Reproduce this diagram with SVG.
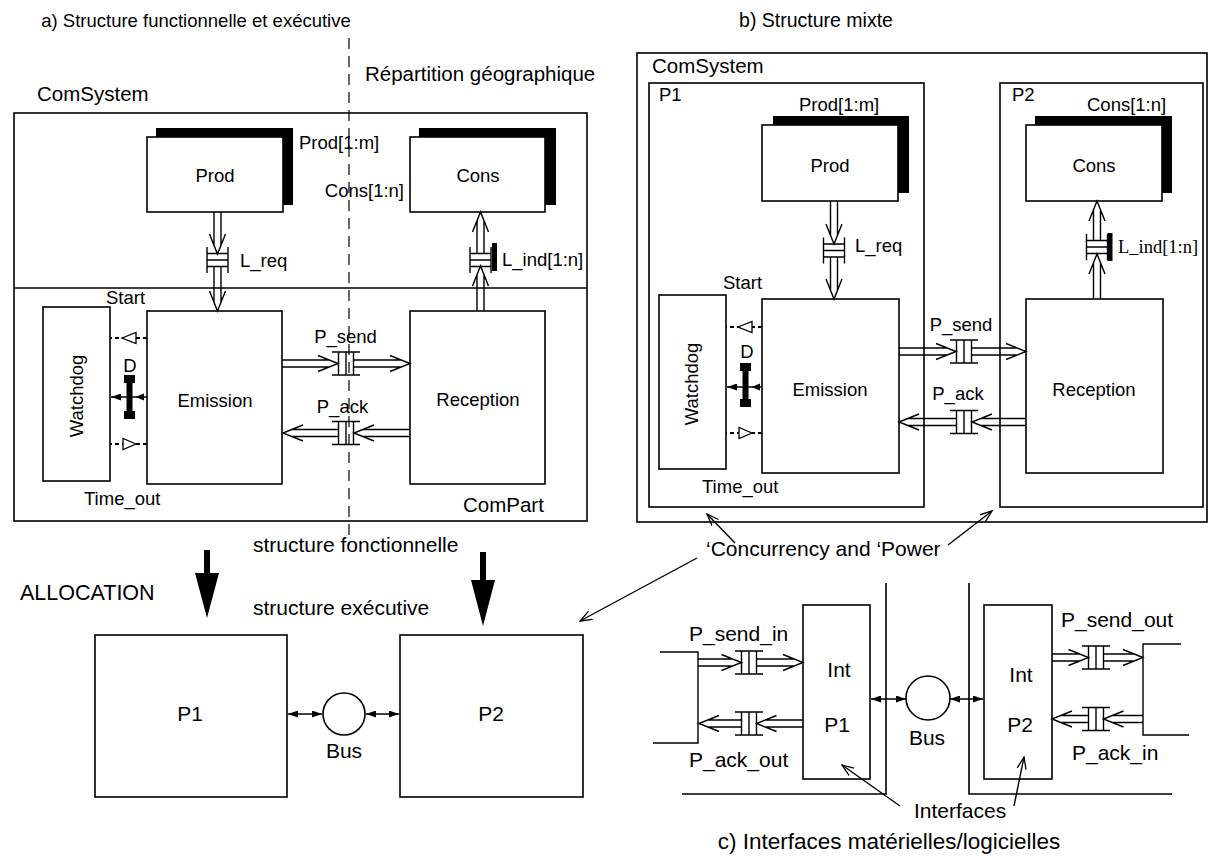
<svg xmlns="http://www.w3.org/2000/svg" width="1208" height="856" viewBox="0 0 1208 856">
<style>
.bx{fill:#fff;stroke:#000;stroke-width:1.6}
.fr{fill:none;stroke:#000;stroke-width:1.6}
.ln{fill:none;stroke:#000;stroke-width:1.4}
.th{fill:none;stroke:#000;stroke-width:1.4}
.ds{fill:none;stroke:#000;stroke-width:2;stroke-dasharray:4 3}
.dl{fill:none;stroke:#000;stroke-width:1.2;stroke-dasharray:11 7}
.sh{fill:#000}
.tri{fill:#fff;stroke:#000;stroke-width:1.3}
text{font-family:"Liberation Sans",Arial,Helvetica,sans-serif;font-size:18.5px;fill:#000}
.m{text-anchor:middle}
.l{font-size:21px}
.ti{font-size:20.5px}
.sf{font-family:"Liberation Serif","Times New Roman",serif}
</style>
<defs>
<g id="chH" class="th"><path d="M-14,-11.5H14M-14,11.5H14M-7.5,-11.5V11.5M0,-11.5V11.5M7.5,-11.5V11.5"/></g>
<g id="chV" class="th"><path d="M-10.5,-13V13M10.5,-13V13M-10.5,-6.5H10.5M-10.5,0H10.5M-10.5,6.5H10.5"/></g>
<marker id="fa" viewBox="0 0 10 7" refX="10" refY="3.5" markerWidth="10" markerHeight="7" markerUnits="userSpaceOnUse" orient="auto-start-reverse"><path d="M0,0L10,3.5L0,7z" fill="#000"/></marker>
<marker id="oa" viewBox="0 0 13 10" refX="12" refY="5" markerWidth="13" markerHeight="10" markerUnits="userSpaceOnUse" orient="auto"><path d="M0,0.5L12,5L0,9.5" fill="none" stroke="#000" stroke-width="1.3"/></marker>
</defs>
<rect width="1208" height="856" fill="#fff"/>

<!-- titles -->
<text class="m" style="font-size:18.5px" x="196" y="27">a) Structure functionnelle et exécutive</text>
<text class="m" style="font-size:19.5px" x="816" y="27">b) Structure mixte</text>
<text class="ti" x="365" y="81">Répartition géographique</text>

<!-- ===== Part a ===== -->
<g id="a-comsystem">
<text class="ti" x="37" y="101">ComSystem</text>
<rect class="fr" x="14" y="113" width="573" height="408"/>
<line class="fr" x1="14" y1="288" x2="587" y2="288"/>
<text class="ti" x="463" y="512">ComPart</text>
</g>
<path id="a-geo-split" class="dl" d="M349,38V545"/>
<g id="a-prod">
<rect class="sh" x="156" y="128" width="137" height="77"/>
<rect class="bx" x="147" y="137" width="136" height="75"/>
<text class="m" x="215" y="182">Prod</text>
<text x="299" y="149">Prod[1:m]</text>
</g>
<g id="a-cons">
<rect class="sh" x="419" y="128" width="137" height="77"/>
<rect class="bx" x="410" y="137" width="135" height="75"/>
<text class="m" x="478" y="182">Cons</text>
<text x="404" y="197" text-anchor="end">Cons[1:n]</text>
</g>
<g id="a-watchdog">
<rect class="bx" x="43" y="307" width="67" height="174"/>
<text class="m" transform="translate(82.5,396) rotate(-90)">Watchdog</text>
</g>
<g id="a-emission">
<rect class="bx" x="147" y="311" width="135" height="173"/>
<text class="m" x="215" y="407">Emission</text>
</g>
<g id="a-reception">
<rect class="bx" x="410" y="311" width="135" height="173"/>
<text class="m" x="478" y="406">Reception</text>
</g>

<!-- ===== Part b ===== -->
<g id="b-comsystem">
<rect class="fr" x="637" y="53" width="570" height="469"/>
<text class="ti" x="652" y="73">ComSystem</text>
</g>
<g id="b-p1">
<rect class="fr" x="649" y="83" width="275" height="424"/>
<text x="659" y="101">P1</text>
</g>
<g id="b-p2">
<rect class="fr" x="1000" y="83" width="203" height="424"/>
<text x="1012" y="101">P2</text>
</g>
<g id="b-prod">
<rect class="sh" x="773" y="116" width="136" height="77"/>
<rect class="bx" x="762" y="125" width="136" height="76"/>
<text class="m" x="830" y="172">Prod</text>
<text x="799" y="111">Prod[1:m]</text>
</g>
<g id="b-cons">
<rect class="sh" x="1035" y="116" width="137" height="77"/>
<rect class="bx" x="1026" y="125" width="136" height="76"/>
<text class="m" x="1094" y="172">Cons</text>
<text x="1087" y="111">Cons[1:n]</text>
</g>
<g id="b-watchdog">
<rect class="bx" x="659" y="295" width="67" height="174"/>
<text class="m" transform="translate(698,384) rotate(-90)">Watchdog</text>
</g>
<g id="b-emission">
<rect class="bx" x="762" y="299" width="137" height="174"/>
<text class="m" x="830" y="396">Emission</text>
</g>
<g id="b-reception">
<rect class="bx" x="1026" y="299" width="137" height="174"/>
<text class="m" x="1094" y="396">Reception</text>
</g>

<!-- ===== Allocation ===== -->
<g id="alloc-labels">
<text class="l" x="253" y="552">structure fonctionnelle</text>
<text class="l" style="font-size:21.5px" x="20" y="600">ALLOCATION</text>
<text class="l" x="253" y="615">structure exécutive</text>
</g>
<g id="exec-p1">
<rect class="bx" x="95" y="635" width="192" height="162"/>
<text class="l m" x="190" y="721">P1</text>
</g>
<g id="exec-p2">
<rect class="bx" x="400" y="635" width="183" height="162"/>
<text class="l m" x="491" y="721">P2</text>
</g>
<g id="exec-bus">
<circle class="bx" cx="344" cy="714" r="21"/>
<text class="l m" x="344" y="758">Bus</text>
</g>

<!-- ===== Part c ===== -->
<g id="c-p1-side">
<path class="fr" d="M886,583V794H682"/>
<path class="ln" d="M660,652H698V743H653"/>
</g>
<g id="c-p2-side">
<path class="fr" d="M969,583V794H1172"/>
<path class="ln" d="M1181,644H1143V735H1189"/>
</g>
<g id="c-int-p1">
<rect class="bx" x="803" y="605" width="67" height="174"/>
<text class="l m" x="839" y="677">Int</text>
<text class="l m" x="837" y="732">P1</text>
</g>
<g id="c-int-p2">
<rect class="bx" x="984" y="605" width="68" height="174"/>
<text class="l m" x="1021" y="682">Int</text>
<text class="l m" x="1020" y="732">P2</text>
</g>
<g id="c-bus">
<circle class="bx" cx="928" cy="698" r="22"/>
<text class="l m" x="927" y="745">Bus</text>
</g>
<g id="c-labels">
<text class="l" x="689" y="641">P_send_in</text>
<text class="l" x="689" y="767">P_ack_out</text>
<text class="l" x="1061" y="627">P_send_out</text>
<text class="l" x="1072" y="760">P_ack_in</text>
<text class="l" x="914" y="818">Interfaces</text>
<text class="l" x="706" y="556">‘Concurrency and ‘Power</text>
<text class="l m" style="font-size:22.5px" x="889" y="849">c) Interfaces matérielles/logicielles</text>
</g>

<!-- ===== Connectors ===== -->
<g id="connectors">
<!-- a: L_req -->
<path class="th" d="M214,212V245M221,212V245M209.5,234L217.5,254L225.5,234"/>
<use href="#chV" x="217.5" y="260"/>
<path class="th" d="M214,266V302M221,266V302M209.5,291L217.5,311L225.5,291"/>
<text x="240" y="267">L_req</text>
<!-- a: L_ind -->
<path class="th" d="M477,311V275M484,311V275M472.5,286L480.5,266L488.5,286"/>
<use href="#chV" x="480.5" y="260"/>
<path class="th" d="M477,254V221M484,254V221M472.5,232L480.5,212L488.5,232"/>
<rect class="sh" x="492" y="243" width="5" height="28"/>
<text x="502" y="266">L_ind[1:n]</text>
<!-- a: P_send -->
<path class="th" d="M282,360H329M282,367H329M318,355.5L338,363.5L318,371.5"/>
<use href="#chH" x="346" y="363.5"/>
<path class="th" d="M354,360H401M354,367H401M390,355.5L410,363.5L390,371.5"/>
<text class="m" x="345.5" y="343">P_send</text>
<!-- a: P_ack -->
<path class="th" d="M410,429.5H363M410,436.5H363M374,425L354,433L374,441"/>
<use href="#chH" x="346" y="433"/>
<path class="th" d="M338,429.5H292M338,436.5H292M303,425L283,433L303,441"/>
<text class="m" x="342.5" y="413">P_ack</text>
<!-- a: watchdog links -->
<path class="ds" d="M147,338H110"/>
<polygon class="tri" points="122,338 136,332.5 136,343.5"/>
<path class="ds" d="M147,444H110"/>
<polygon class="tri" points="136,444 123,438.5 123,449.5"/>
<path class="ln" d="M147,397H111" marker-end="url(#fa)"/>
<path class="sh" d="M124,375H135V383H132.5V411H135V419H124V411H126.5V383H124Z"/>
<polygon class="sh" points="135.5,397 144,393.5 144,400.5"/>
<text class="m" x="130" y="372">D</text>
<text x="106" y="304">Start</text>
<text x="84" y="505">Time_out</text>

<!-- b: L_req -->
<path class="th" d="M830.5,201V235M837.5,201V235M826,224L834,244L842,224"/>
<use href="#chV" x="834" y="250.5"/>
<path class="th" d="M830.5,257V290M837.5,257V290M826,279L834,299L842,279"/>
<text x="855" y="252">L_req</text>
<!-- b: L_ind -->
<path class="th" d="M1093.5,299V263M1100.5,299V263M1089,274L1097,254L1105,274"/>
<use href="#chV" x="1097" y="247"/>
<path class="th" d="M1093.5,240V210M1100.5,240V210M1089,221L1097,201L1105,221"/>
<rect class="sh" x="1107.5" y="233" width="5" height="28"/>
<text class="sf" x="1118" y="253">L_ind[1:n]</text>
<!-- b: P_send -->
<path class="th" d="M899,348H947M899,355H947M936,343.5L956,351.5L936,359.5"/>
<use href="#chH" x="964" y="351.5"/>
<path class="th" d="M972,348H1017M972,355H1017M1006,343.5L1026,351.5L1006,359.5"/>
<text class="m" x="961" y="331">P_send</text>
<!-- b: P_ack -->
<path class="th" d="M1026,418.5H981M1026,425.5H981M992,414L972,422L992,430"/>
<use href="#chH" x="964" y="422"/>
<path class="th" d="M956,418.5H908M956,425.5H908M919,414L899,422L919,430"/>
<text class="m" x="958" y="400">P_ack</text>
<!-- b: watchdog links -->
<path class="ds" d="M762,327H726"/>
<polygon class="tri" points="738,327 752,321.5 752,332.5"/>
<path class="ds" d="M762,433H726"/>
<polygon class="tri" points="752,433 739,427.5 739,438.5"/>
<path class="ln" d="M762,387H727" marker-end="url(#fa)"/>
<path class="sh" d="M740,363H751V371H748.5V399H751V407H740V399H742.5V371H740Z"/>
<polygon class="sh" points="751.5,387 760,383.5 760,390.5"/>
<text class="m" x="747" y="358">D</text>
<text x="723" y="289">Start</text>
<text x="702" y="493">Time_out</text>

<!-- allocation arrows -->
<path class="sh" d="M204,550H210V573H219L207,618L195,573H204Z"/>
<path class="sh" d="M480,552H486V580H495L483,626L471,580H480Z"/>
<!-- bus a -->
<path class="ln" d="M288,714H322" marker-start="url(#fa)" marker-end="url(#fa)"/>
<path class="ln" d="M366,714H399" marker-start="url(#fa)" marker-end="url(#fa)"/>

<!-- c: flows -->
<path class="th" d="M698,659H733M698,666H733M721.5,654.5L741.5,662.5L721.5,670.5"/>
<use href="#chH" x="749" y="662.5"/>
<path class="th" d="M756.5,659H794M756.5,666H794M783,654.5L803,662.5L783,670.5"/>
<path class="th" d="M803,720H765M803,727H765M776.5,715.5L756.5,723.5L776.5,731.5"/>
<use href="#chH" x="749" y="723.5"/>
<path class="th" d="M741.5,720H708M741.5,727H708M719,715.5L699,723.5L719,731.5"/>
<path class="th" d="M1052,654H1080M1052,661H1080M1068.5,649.5L1088.5,657.5L1068.5,665.5"/>
<use href="#chH" x="1096" y="657.5"/>
<path class="th" d="M1103.5,654H1134M1103.5,661H1134M1123,649.5L1143,657.5L1123,665.5"/>
<path class="th" d="M1143,715.5H1112M1143,722.5H1112M1123.5,711L1103.5,719L1123.5,727"/>
<use href="#chH" x="1096" y="719"/>
<path class="th" d="M1088.5,715.5H1061M1088.5,722.5H1061M1072,711L1052,719L1072,727"/>
<!-- bus c -->
<path class="ln" d="M871,699H906" marker-start="url(#fa)" marker-end="url(#fa)"/>
<path class="ln" d="M950,699H983" marker-start="url(#fa)" marker-end="url(#fa)"/>

<!-- annotation arrows -->
<path class="th" d="M735,543L707,514" marker-end="url(#oa)"/>
<path class="th" d="M948,545L992,511" marker-end="url(#oa)"/>
<path class="th" d="M697,558L580,621" marker-end="url(#oa)"/>
<path class="th" d="M900,806L842,765" marker-end="url(#oa)"/>
<path class="th" d="M1014,806L1024,757" marker-end="url(#oa)"/>
</g>
</svg>
